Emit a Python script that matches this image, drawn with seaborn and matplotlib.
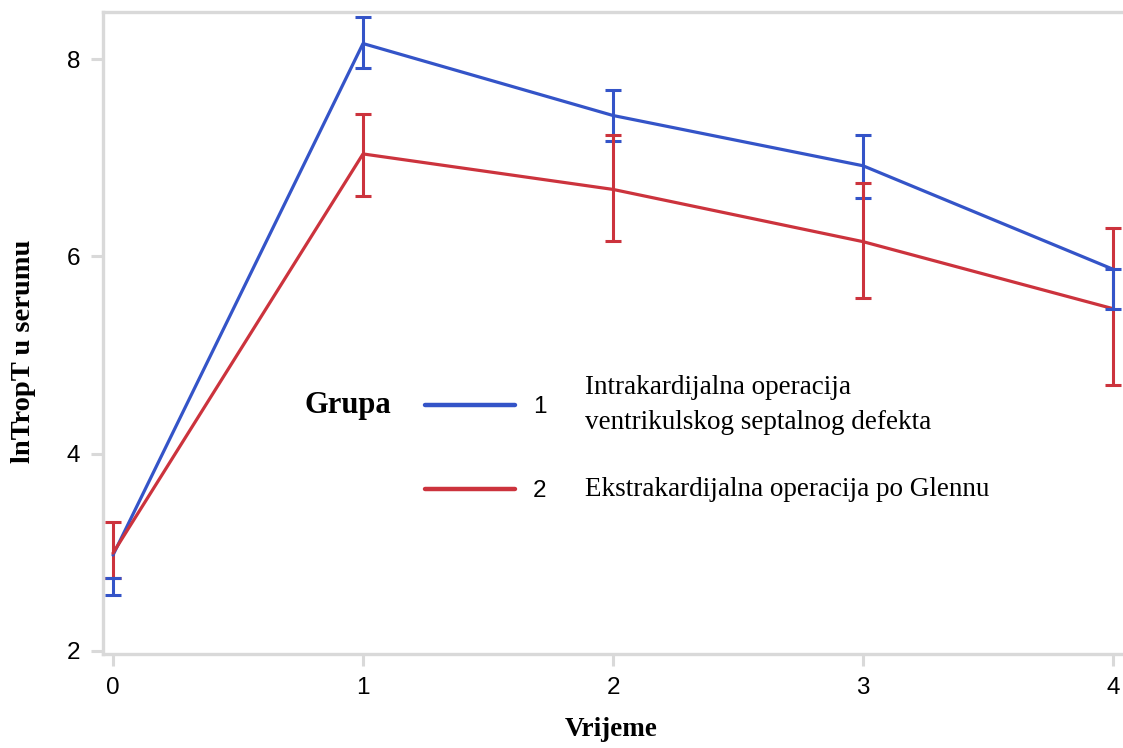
import matplotlib
matplotlib.use("Agg")
import matplotlib.pyplot as plt
import seaborn as sns
import pandas as pd
from matplotlib.lines import Line2D

# ---- data ----
times = [0, 1, 2, 3, 4]
groups = ["1", "2"]
group_labels = ["Intrakardijalna operacija\nventrikulskog septalnog defekta",
                "Ekstrakardijalna operacija po Glennu"]
mean_g1 = [2.97, 8.16, 7.43, 6.92, 5.87]
mean_g2 = [2.99, 7.04, 6.68, 6.15, 5.47]
low_g1 = [2.57, 7.91, 7.17, 6.59, 5.47]
high_g1 = [2.74, 8.43, 7.69, 7.23, 5.87]
low_g2 = [2.74, 6.61, 6.16, 5.58, 4.70]
high_g2 = [3.31, 7.45, 7.23, 6.75, 6.29]
x_ticks = [0, 1, 2, 3, 4]
y_ticks = [2, 4, 6, 8]
x_label = "Vrijeme"
y_label = "lnTropT u serumu"
legend_title = "Grupa"

BLUE = "#3454c8"
RED = "#cc333d"
GREY = "#d9d9d9"
SERIF = "Liberation Serif"
SANS = "Liberation Sans"

sns.set_theme(style="white")
plt.rcParams["font.family"] = [SANS, "DejaVu Sans"]
plt.rcParams["text.color"] = "black"
plt.rcParams["axes.labelcolor"] = "black"

df = pd.DataFrame({
    "Vrijeme": times * 2,
    "lnTropT": mean_g1 + mean_g2,
    "Grupa": [groups[0]] * len(times) + [groups[1]] * len(times),
})

W, H = 1123, 748
fig = plt.figure(figsize=(W / 100, H / 100), dpi=100)
ax = fig.add_axes([103 / W, (H - 654) / H, (W - 103) / W, (654 - 11.7) / H])

sns.lineplot(data=df, x="Vrijeme", y="lnTropT", hue="Grupa",
             palette={groups[0]: BLUE, groups[1]: RED},
             linewidth=2.3, legend=False, ax=ax, zorder=5)

def bars(low, high, color, idx, z):
    xs = [times[i] for i in idx]
    mid = [(low[i] + high[i]) / 2 for i in idx]
    half = [(high[i] - low[i]) / 2 for i in idx]
    ax.errorbar(xs, mid, yerr=half, fmt="none", ecolor=color,
                elinewidth=2.2, capsize=5.5, capthick=2.2, zorder=z)

front_blue = [0, 4]
back_blue = [1, 2, 3]
bars(low_g1, high_g1, BLUE, back_blue, 3)
bars(low_g2, high_g2, RED, list(range(len(times))), 4)
bars(low_g1, high_g1, BLUE, front_blue, 6)

ax.set_xlim(-0.04, 4.04)
ax.set_ylim(1.9665, 8.483)
ax.set_xticks(x_ticks)
ax.set_yticks(y_ticks)
ax.set_xticklabels([str(t) for t in x_ticks], fontsize=17.5, family=SANS)
ax.set_yticklabels([str(t) for t in y_ticks], fontsize=17.5, family=SANS)
ax.tick_params(axis="x", length=8.5, width=2.2, color=GREY, pad=8,
               labelcolor="black", bottom=True)
ax.tick_params(axis="y", length=8.5, width=2.2, color=GREY, pad=8,
               labelcolor="black", left=True)

for side in ["left", "top", "bottom"]:
    ax.spines[side].set_color(GREY)
    ax.spines[side].set_linewidth(2.4)
ax.spines["right"].set_visible(False)

ax.set_xlabel(x_label, family=SERIF, fontweight="bold", fontsize=19.5, color="black")
ax.set_ylabel(y_label, family=SERIF, fontweight="bold", fontsize=20.5, color="black")
ax.xaxis.set_label_coords((611 - 103) / 1020, -(730 - 654) / (654 - 11.7))
ax.yaxis.set_label_coords((24 - 103) / 1020, (654 - 351) / (654 - 11.7))
ax.xaxis.label.set_va("center")
ax.yaxis.label.set_va("center")

# ---- legend (built manually: title on the left, sans numbers, serif labels) ----
def fx(px):
    return px / W

def fy(py):
    return 1 - py / H

fig.text(fx(305), fy(406), legend_title, family=SERIF, fontweight="bold",
         fontsize=22, va="center", ha="left", color="black")
for color, num, lab, yc, ylab in [(BLUE, groups[0], group_labels[0], 405, 405),
                                  (RED, groups[1], group_labels[1], 489, 490)]:
    fig.add_artist(Line2D([fx(425), fx(515)], [fy(yc), fy(yc)], color=color,
                          linewidth=3.2, transform=fig.transFigure))
    fig.text(fx(540), fy(yc + 2), num, family=SANS, fontsize=17.5,
             va="center", ha="center", color="black")
    fig.text(fx(585), fy(ylab), lab, family=SERIF, fontsize=19.5,
             va="center", ha="left", linespacing=1.55, color="black")

fig.savefig("out.png", dpi=100, facecolor="white")
